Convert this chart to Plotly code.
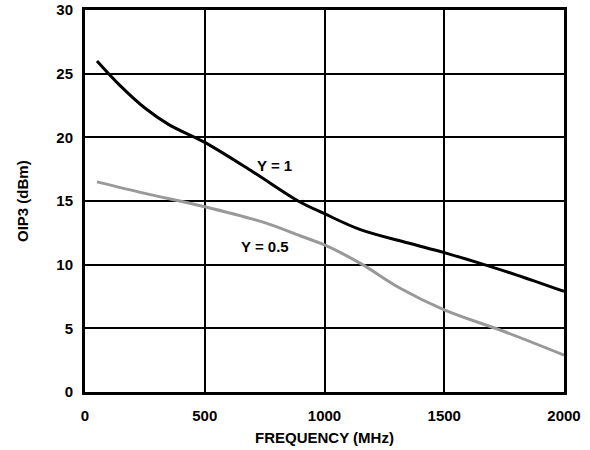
import plotly.graph_objects as go

freq_y1 = [50, 150, 250, 350, 500, 700, 890, 1000, 1150, 1350, 1500, 1650, 1800, 2000]
oip3_y1 = [26.0, 24.0, 22.3, 21.0, 19.6, 17.3, 15.0, 14.0, 12.75, 11.7, 10.95, 10.1, 9.2, 7.9]

freq_y05 = [50, 250, 500, 750, 900, 1000, 1150, 1316, 1500, 1750, 2000]
oip3_y05 = [16.5, 15.6, 14.55, 13.3, 12.25, 11.55, 10.1, 8.15, 6.45, 4.75, 2.9]

x_ticks = [0, 500, 1000, 1500, 2000]
y_ticks = [0, 5, 10, 15, 20, 25, 30]

font = "Liberation Sans, Arial, sans-serif"

fig = go.Figure()
fig.add_trace(go.Scatter(x=freq_y05, y=oip3_y05, mode="lines",
                         line=dict(color="#999999", width=3, shape="spline", smoothing=1.0),
                         showlegend=False, hoverinfo="skip"))
fig.add_trace(go.Scatter(x=freq_y1, y=oip3_y1, mode="lines",
                         line=dict(color="#000000", width=3, shape="spline", smoothing=1.0),
                         showlegend=False, hoverinfo="skip"))

fig.add_annotation(x=793, y=17.8, text="<b>Y = 1</b>", showarrow=False,
                   font=dict(family=font, size=15, color="black"))
fig.add_annotation(x=752, y=11.4, text="<b>Y = 0.5</b>", showarrow=False,
                   font=dict(family=font, size=15, color="black"))

fig.add_annotation(xref="paper", yref="paper", x=0.5, y=-0.119,
                   text="<b>FREQUENCY (MHz)</b>", showarrow=False,
                   xanchor="center", yanchor="middle",
                   font=dict(family=font, size=15, color="black"))
fig.add_annotation(xref="paper", yref="paper", x=-0.1315, y=0.5,
                   text="<b>OIP3 (dBm)</b>", showarrow=False, textangle=-90,
                   xanchor="center", yanchor="middle",
                   font=dict(family=font, size=15, color="black"))

axis_common = dict(showline=True, linecolor="black", linewidth=3, mirror=True,
                   showgrid=True, gridcolor="black", gridwidth=1.5, zeroline=False,
                   ticks="", automargin=False,
                   tickfont=dict(family=font, size=15, color="black"))

fig.update_xaxes(range=[0, 2000], tickvals=x_ticks,
                 ticktext=[f"<b>{v}</b>" for v in x_ticks],
                 ticklabelstandoff=8, **axis_common)
fig.update_yaxes(range=[0, 30], tickvals=y_ticks,
                 ticktext=[f"<b>{v}</b>" for v in y_ticks],
                 ticklabelstandoff=6, **axis_common)

fig.update_layout(width=590, height=450,
                  margin=dict(l=85, r=26, t=10, b=58),
                  plot_bgcolor="white", paper_bgcolor="white",
                  font=dict(family=font))

fig.write_html("out.html", config={"displayModeBar": False},
               post_script="document.body.style.margin='0';document.body.style.overflow='hidden';")
